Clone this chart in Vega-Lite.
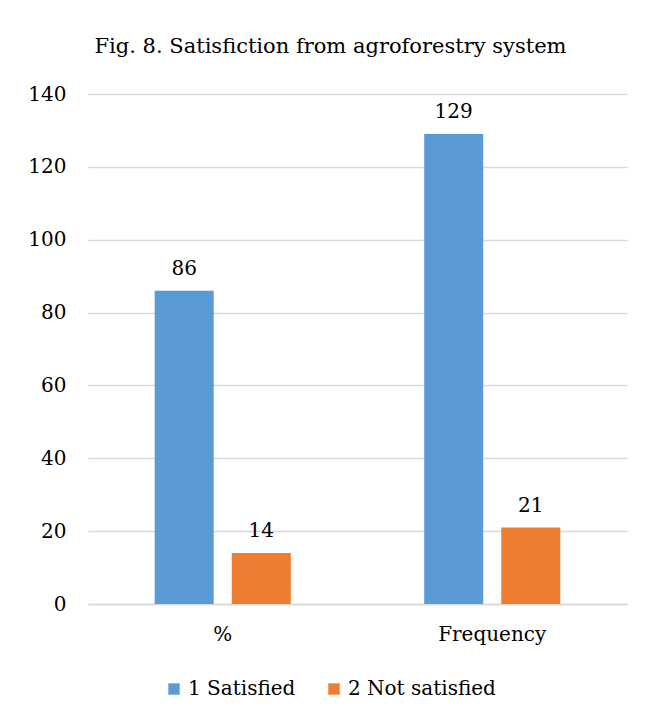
{
  "$schema": "https://vega.github.io/schema/vega-lite/v6.json",
  "width": 539,
  "height": 510,
  "autosize": {"type": "none"},
  "padding": {"left": 88, "top": 94, "right": 20, "bottom": 116},
  "background": "white",
  "title": {
    "text": "Fig. 8. Satisfiction from agroforestry system",
    "font": "DejaVu Serif",
    "fontSize": 21,
    "fontWeight": "normal",
    "color": "#000000",
    "anchor": "middle",
    "dx": -27,
    "offset": 27
  },
  "data": {
    "values": [
      {"group": "%", "category": "1 Satisfied", "value": 86},
      {"group": "%", "category": "2 Not satisfied", "value": 14},
      {"group": "Frequency", "category": "1 Satisfied", "value": 129},
      {"group": "Frequency", "category": "2 Not satisfied", "value": 21}
    ]
  },
  "encoding": {
    "x": {
      "field": "group",
      "type": "nominal",
      "sort": ["%", "Frequency"],
      "scale": {"paddingInner": 0.495, "paddingOuter": 0.2475},
      "axis": {
        "title": null,
        "labelAngle": 0,
        "labelFont": "DejaVu Serif",
        "labelFontSize": 20,
        "labelColor": "#000000",
        "labelPadding": 20,
        "ticks": false,
        "domainColor": "#d9d9d9",
        "domainWidth": 1.5
      }
    },
    "xOffset": {
      "field": "category",
      "type": "nominal",
      "sort": ["1 Satisfied", "2 Not satisfied"],
      "scale": {"paddingInner": 0.234, "paddingOuter": 0}
    },
    "y": {
      "field": "value",
      "type": "quantitative",
      "scale": {"domain": [0, 140]},
      "axis": {
        "title": null,
        "values": [0, 20, 40, 60, 80, 100, 120, 140],
        "labelFont": "DejaVu Serif",
        "labelFontSize": 20,
        "labelColor": "#000000",
        "labelPadding": 22,
        "ticks": false,
        "domain": false,
        "gridColor": "#d9d9d9",
        "gridWidth": 1.5
      }
    }
  },
  "layer": [
    {
      "mark": {"type": "bar"},
      "encoding": {
        "color": {
          "field": "category",
          "type": "nominal",
          "scale": {"domain": ["1 Satisfied", "2 Not satisfied"], "range": ["#5B9BD5", "#ED7D31"]},
          "legend": {
            "title": null,
            "orient": "none",
            "direction": "horizontal",
            "legendX": 76,
            "legendY": 585,
            "symbolType": "square",
            "symbolSize": 130,
            "symbolStrokeWidth": 0,
            "labelFont": "DejaVu Serif",
            "labelFontSize": 20,
            "labelColor": "#000000",
            "labelOffset": 4,
            "columnPadding": 28
          }
        }
      }
    },
    {
      "mark": {
        "type": "text",
        "baseline": "bottom",
        "dy": -12,
        "font": "DejaVu Serif",
        "fontSize": 20,
        "color": "#000000"
      },
      "encoding": {
        "text": {"field": "value", "type": "quantitative"}
      }
    }
  ],
  "config": {
    "view": {"stroke": null}
  }
}
